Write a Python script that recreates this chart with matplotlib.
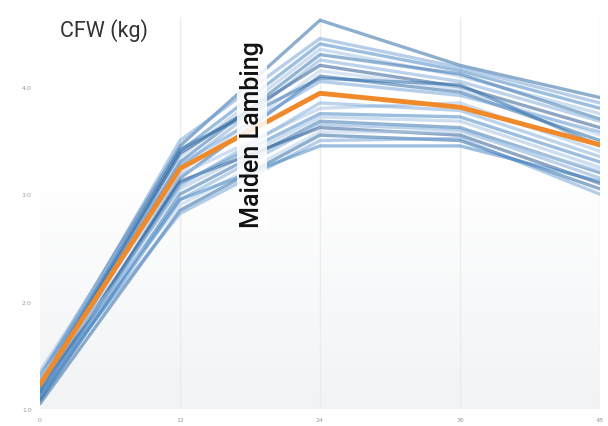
import matplotlib
matplotlib.use("Agg")
import matplotlib.pyplot as plt
import numpy as np

x_pos = [0, 1, 2, 3, 4]
x_labels = ["0", "12", "24", "36", "48"]
y_ticks = [1.0, 2.0, 3.0, 4.0]
y_labels = ["1.0", "2.0", "3.0", "4.0"]

mean_cfw = [1.23, 3.24, 3.94, 3.81, 3.46]

blue_lines = [
    [1.30, 3.45, 4.62, 4.20, 3.90],
    [1.25, 3.50, 4.45, 4.18, 3.85],
    [1.20, 3.40, 4.40, 4.15, 3.80],
    [1.35, 3.35, 4.35, 4.10, 3.75],
    [1.15, 3.30, 4.30, 4.12, 3.70],
    [1.28, 3.25, 4.25, 4.05, 3.68],
    [1.18, 3.38, 4.20, 4.00, 3.62],
    [1.22, 3.20, 4.15, 3.98, 3.55],
    [1.10, 3.15, 4.10, 3.95, 3.50],
    [1.32, 3.28, 4.05, 3.92, 3.58],
    [1.12, 3.10, 3.75, 3.72, 3.30],
    [1.25, 3.05, 3.72, 3.68, 3.25],
    [1.08, 3.00, 3.68, 3.62, 3.20],
    [1.20, 2.95, 3.65, 3.60, 3.15],
    [1.15, 3.12, 3.62, 3.55, 3.10],
    [1.30, 2.90, 3.58, 3.58, 3.22],
    [1.05, 2.85, 3.55, 3.50, 3.05],
    [1.18, 2.82, 3.50, 3.52, 3.00],
    [1.10, 2.95, 3.45, 3.45, 3.12],
    [1.27, 3.18, 3.80, 3.85, 3.40],
    [1.22, 3.42, 4.08, 4.02, 3.45],
    [1.12, 3.08, 3.85, 3.78, 3.35],
]
blue_colors = ["#1f5f9e", "#6f9fd4", "#3a7fc0", "#9dbfe4", "#2a6aa8", "#7aa9d8", "#1b4f8a", "#b3cdea"]

fig = plt.figure(figsize=(6.08, 4.27), dpi=100)
ax = fig.add_axes([0.0658, 0.0398, 0.921, 0.918])
ax.set_xlim(0, 4)
ax.set_ylim(1.0, 4.65)

# very faint bottom gradient (white at top, light grey at bottom)
grad = np.linspace(0, 1, 200).reshape(-1, 1)
cmap = matplotlib.colors.LinearSegmentedColormap.from_list("g", ["#ffffff", "#f1f3f5"])
ax.imshow(grad, extent=[0, 4, 1.0, 3.2], aspect="auto", cmap=cmap, zorder=0)

for xv in x_pos[1:]:
    ax.axvline(xv, color="#ececec", lw=1, zorder=1)

for i, vals in enumerate(blue_lines):
    ax.plot(x_pos, vals, color=blue_colors[i % len(blue_colors)], lw=2.4, alpha=0.5, zorder=2,
            solid_capstyle="round")

ax.plot(x_pos, mean_cfw, color="#f0892a", lw=3.5, zorder=4, solid_capstyle="round")

ax.text(1.514, 3.56, "Maiden Lambing", rotation=90, ha="center", va="center", fontsize=18,
        color="#111111", family=["Roboto", "DejaVu Sans"], weight="medium", zorder=5,
        bbox=dict(facecolor="white", edgecolor="none", alpha=0.85, pad=2))

fig.text(0.098, 0.928, "CFW (kg)", fontsize=15.5, color="#333333", family=["Roboto", "DejaVu Sans"],
         ha="left", va="center")

for s in ax.spines.values():
    s.set_visible(False)
ax.set_xticks(x_pos)
ax.set_xticklabels(x_labels)
ax.set_yticks(y_ticks)
ax.set_yticklabels(y_labels)
ax.tick_params(length=0, labelsize=4.5, labelcolor="#999999", pad=6)

fig.savefig("out.png", dpi=100, facecolor="white")
